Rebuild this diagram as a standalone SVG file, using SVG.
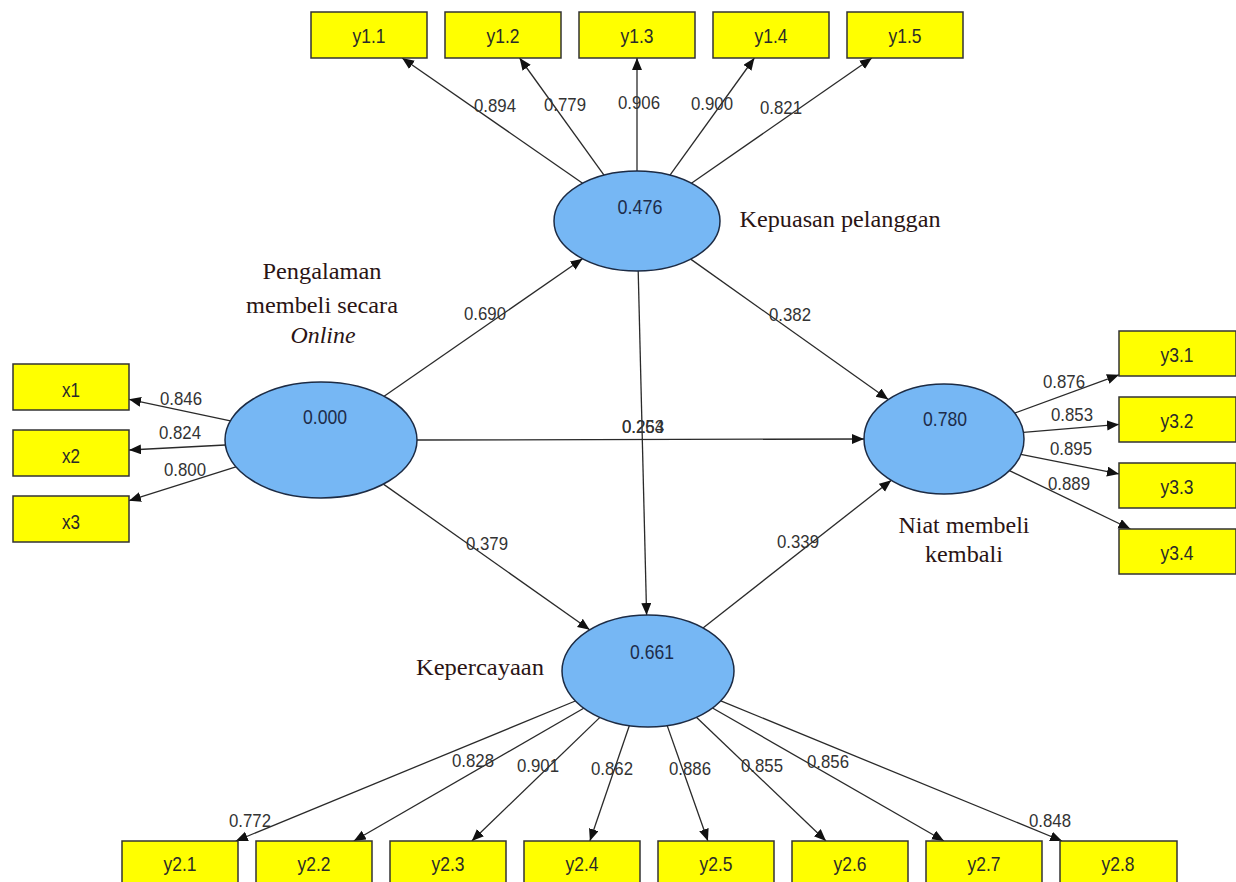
<svg xmlns="http://www.w3.org/2000/svg" width="1236" height="882" viewBox="0 0 1236 882">
<style>
.box{fill:#ffff00;stroke:#333;stroke-width:1.5}
.lv{fill:#76b7f4;stroke:#1c2b44;stroke-width:1.5}
.conn line{stroke:#2a2a2a;stroke-width:1.3;marker-end:url(#ah)}
.num{font-family:"Liberation Sans",Arial,sans-serif;font-size:19px;fill:#333;text-anchor:middle}
.bl{font-family:"Liberation Sans",Arial,sans-serif;font-size:21px;fill:#2a2a2a;text-anchor:middle}
.lvn{font-family:"Liberation Sans",Arial,sans-serif;font-size:21px;fill:#1d2c4a;text-anchor:middle}
.name{font-family:"Liberation Serif","Times New Roman",serif;font-size:23.5px;fill:#2a1414;text-anchor:middle}
</style>
<defs>
<marker id="ah" markerUnits="userSpaceOnUse" markerWidth="14" markerHeight="12" refX="12" refY="5" orient="auto">
<path d="M0,0 L12,5 L0,10 z" fill="#111"/>
</marker>
</defs>
<rect width="1236" height="882" fill="#ffffff"/>

<g id="connectors" class="conn">
<line x1="230.4" y1="420.8" x2="129" y2="399.3"/>
<line x1="225.4" y1="445" x2="129" y2="450"/>
<line x1="235.9" y1="466.9" x2="129" y2="500.7"/>
<line x1="582.6" y1="183.2" x2="402.1" y2="58"/>
<line x1="604" y1="175.1" x2="519.6" y2="58"/>
<line x1="637" y1="171" x2="637" y2="58"/>
<line x1="670" y1="175.1" x2="754.4" y2="58"/>
<line x1="691.4" y1="183.2" x2="871.9" y2="58"/>
<line x1="384.1" y1="396.3" x2="582.5" y2="258.7"/>
<line x1="417" y1="440" x2="864" y2="439"/>
<line x1="383.4" y1="484.1" x2="589.7" y2="629.8"/>
<line x1="690.7" y1="259.1" x2="888.3" y2="399.5"/>
<line x1="638.2" y1="271" x2="646.6" y2="615"/>
<line x1="703" y1="627.9" x2="891.3" y2="480.3"/>
<line x1="1014.6" y1="413.1" x2="1119" y2="374.8"/>
<line x1="1023.4" y1="432.4" x2="1119" y2="424.4"/>
<line x1="1020.8" y1="454.3" x2="1119" y2="473.9"/>
<line x1="1009.5" y1="470.6" x2="1130.4" y2="529"/>
<line x1="575.3" y1="701" x2="235.8" y2="841"/>
<line x1="583.7" y1="708.2" x2="353.8" y2="841"/>
<line x1="599.9" y1="717.4" x2="471.8" y2="841"/>
<line x1="629.3" y1="725.7" x2="589.9" y2="841"/>
<line x1="667.2" y1="725.6" x2="707.9" y2="841"/>
<line x1="696.4" y1="717.3" x2="826" y2="841"/>
<line x1="712.5" y1="708" x2="944" y2="841"/>
<line x1="720.8" y1="700.9" x2="1062.1" y2="841"/>
</g>

<g id="node-pengalaman">
<ellipse class="lv" cx="321" cy="440" rx="96" ry="58"/>
<text class="lvn" x="325" y="424" textLength="44" lengthAdjust="spacingAndGlyphs">0.000</text>
<text class="name" x="322" y="279" textLength="119" lengthAdjust="spacingAndGlyphs">Pengalaman</text>
<text class="name" x="322" y="313" textLength="152" lengthAdjust="spacingAndGlyphs">membeli secara</text>
<text class="name" x="323" y="343" font-style="italic" textLength="65" lengthAdjust="spacingAndGlyphs">Online</text>
</g>
<g id="node-kepuasan">
<ellipse class="lv" cx="637" cy="221" rx="83" ry="50"/>
<text class="lvn" x="640" y="214" textLength="45" lengthAdjust="spacingAndGlyphs">0.476</text>
<text class="name" x="840" y="227" textLength="201" lengthAdjust="spacingAndGlyphs">Kepuasan pelanggan</text>
</g>
<g id="node-kepercayaan">
<ellipse class="lv" cx="648" cy="671" rx="86" ry="56"/>
<text class="lvn" x="652" y="659" textLength="44" lengthAdjust="spacingAndGlyphs">0.661</text>
<text class="name" x="480" y="675" textLength="128" lengthAdjust="spacingAndGlyphs">Kepercayaan</text>
</g>
<g id="node-niat">
<ellipse class="lv" cx="944" cy="439" rx="80" ry="55"/>
<text class="lvn" x="945" y="426" textLength="44" lengthAdjust="spacingAndGlyphs">0.780</text>
<text class="name" x="964" y="533" textLength="131" lengthAdjust="spacingAndGlyphs">Niat membeli</text>
<text class="name" x="964" y="562" textLength="78" lengthAdjust="spacingAndGlyphs">kembali</text>
</g>

<g id="node-x1"><rect class="box" x="13" y="364" width="116" height="46"/><text class="bl" x="71" y="397" textLength="18" lengthAdjust="spacingAndGlyphs">x1</text></g>
<g id="node-x2"><rect class="box" x="13" y="430" width="116" height="46"/><text class="bl" x="71" y="463" textLength="18" lengthAdjust="spacingAndGlyphs">x2</text></g>
<g id="node-x3"><rect class="box" x="13" y="496" width="116" height="46"/><text class="bl" x="71" y="529" textLength="18" lengthAdjust="spacingAndGlyphs">x3</text></g>

<g id="node-y1.1"><rect class="box" x="311" y="12" width="116" height="46"/><text class="bl" x="369" y="43" textLength="33" lengthAdjust="spacingAndGlyphs">y1.1</text></g>
<g id="node-y1.2"><rect class="box" x="445" y="12" width="116" height="46"/><text class="bl" x="503" y="43" textLength="33" lengthAdjust="spacingAndGlyphs">y1.2</text></g>
<g id="node-y1.3"><rect class="box" x="579" y="12" width="116" height="46"/><text class="bl" x="637" y="43" textLength="33" lengthAdjust="spacingAndGlyphs">y1.3</text></g>
<g id="node-y1.4"><rect class="box" x="713" y="12" width="116" height="46"/><text class="bl" x="771" y="43" textLength="33" lengthAdjust="spacingAndGlyphs">y1.4</text></g>
<g id="node-y1.5"><rect class="box" x="847" y="12" width="116" height="46"/><text class="bl" x="905" y="43" textLength="33" lengthAdjust="spacingAndGlyphs">y1.5</text></g>

<g id="node-y3.1"><rect class="box" x="1119" y="331" width="117" height="45"/><text class="bl" x="1177" y="362" textLength="33" lengthAdjust="spacingAndGlyphs">y3.1</text></g>
<g id="node-y3.2"><rect class="box" x="1119" y="397" width="117" height="45"/><text class="bl" x="1177" y="428" textLength="33" lengthAdjust="spacingAndGlyphs">y3.2</text></g>
<g id="node-y3.3"><rect class="box" x="1119" y="463" width="117" height="45"/><text class="bl" x="1177" y="494" textLength="33" lengthAdjust="spacingAndGlyphs">y3.3</text></g>
<g id="node-y3.4"><rect class="box" x="1119" y="529" width="117" height="45"/><text class="bl" x="1177" y="560" textLength="33" lengthAdjust="spacingAndGlyphs">y3.4</text></g>

<g id="node-y2.1"><rect class="box" x="122" y="841" width="116" height="46"/><text class="bl" x="180" y="871" textLength="33" lengthAdjust="spacingAndGlyphs">y2.1</text></g>
<g id="node-y2.2"><rect class="box" x="256" y="841" width="116" height="46"/><text class="bl" x="314" y="871" textLength="33" lengthAdjust="spacingAndGlyphs">y2.2</text></g>
<g id="node-y2.3"><rect class="box" x="390" y="841" width="116" height="46"/><text class="bl" x="448" y="871" textLength="33" lengthAdjust="spacingAndGlyphs">y2.3</text></g>
<g id="node-y2.4"><rect class="box" x="524" y="841" width="116" height="46"/><text class="bl" x="582" y="871" textLength="33" lengthAdjust="spacingAndGlyphs">y2.4</text></g>
<g id="node-y2.5"><rect class="box" x="658" y="841" width="116" height="46"/><text class="bl" x="716" y="871" textLength="33" lengthAdjust="spacingAndGlyphs">y2.5</text></g>
<g id="node-y2.6"><rect class="box" x="792" y="841" width="116" height="46"/><text class="bl" x="850" y="871" textLength="33" lengthAdjust="spacingAndGlyphs">y2.6</text></g>
<g id="node-y2.7"><rect class="box" x="926" y="841" width="116" height="46"/><text class="bl" x="984" y="871" textLength="33" lengthAdjust="spacingAndGlyphs">y2.7</text></g>
<g id="node-y2.8"><rect class="box" x="1060" y="841" width="117" height="46"/><text class="bl" x="1118" y="871" textLength="33" lengthAdjust="spacingAndGlyphs">y2.8</text></g>

<g id="connector-labels" class="num">
<text x="181" y="405" textLength="42" lengthAdjust="spacingAndGlyphs">0.846</text>
<text x="180" y="439" textLength="42" lengthAdjust="spacingAndGlyphs">0.824</text>
<text x="185" y="476" textLength="42" lengthAdjust="spacingAndGlyphs">0.800</text>
<text x="495" y="112" textLength="42" lengthAdjust="spacingAndGlyphs">0.894</text>
<text x="565" y="111" textLength="42" lengthAdjust="spacingAndGlyphs">0.779</text>
<text x="639" y="109" textLength="42" lengthAdjust="spacingAndGlyphs">0.906</text>
<text x="712" y="110" textLength="42" lengthAdjust="spacingAndGlyphs">0.900</text>
<text x="781" y="114" textLength="42" lengthAdjust="spacingAndGlyphs">0.821</text>
<text x="485" y="320" textLength="42" lengthAdjust="spacingAndGlyphs">0.690</text>
<text x="790" y="321" textLength="42" lengthAdjust="spacingAndGlyphs">0.382</text>
<text x="643" y="433" textLength="42" lengthAdjust="spacingAndGlyphs">0.253</text>
<text x="643" y="433" textLength="42" lengthAdjust="spacingAndGlyphs">0.264</text>
<text x="487" y="550" textLength="42" lengthAdjust="spacingAndGlyphs">0.379</text>
<text x="798" y="548" textLength="42" lengthAdjust="spacingAndGlyphs">0.339</text>
<text x="1064" y="388" textLength="42" lengthAdjust="spacingAndGlyphs">0.876</text>
<text x="1072" y="421" textLength="42" lengthAdjust="spacingAndGlyphs">0.853</text>
<text x="1071" y="455" textLength="42" lengthAdjust="spacingAndGlyphs">0.895</text>
<text x="1069" y="490" textLength="42" lengthAdjust="spacingAndGlyphs">0.889</text>
<text x="250" y="827" textLength="42" lengthAdjust="spacingAndGlyphs">0.772</text>
<text x="473" y="767" textLength="42" lengthAdjust="spacingAndGlyphs">0.828</text>
<text x="538" y="772" textLength="42" lengthAdjust="spacingAndGlyphs">0.901</text>
<text x="612" y="775" textLength="42" lengthAdjust="spacingAndGlyphs">0.862</text>
<text x="690" y="775" textLength="42" lengthAdjust="spacingAndGlyphs">0.886</text>
<text x="762" y="772" textLength="42" lengthAdjust="spacingAndGlyphs">0.855</text>
<text x="828" y="768" textLength="42" lengthAdjust="spacingAndGlyphs">0.856</text>
<text x="1050" y="827" textLength="42" lengthAdjust="spacingAndGlyphs">0.848</text>
</g>
</svg>
